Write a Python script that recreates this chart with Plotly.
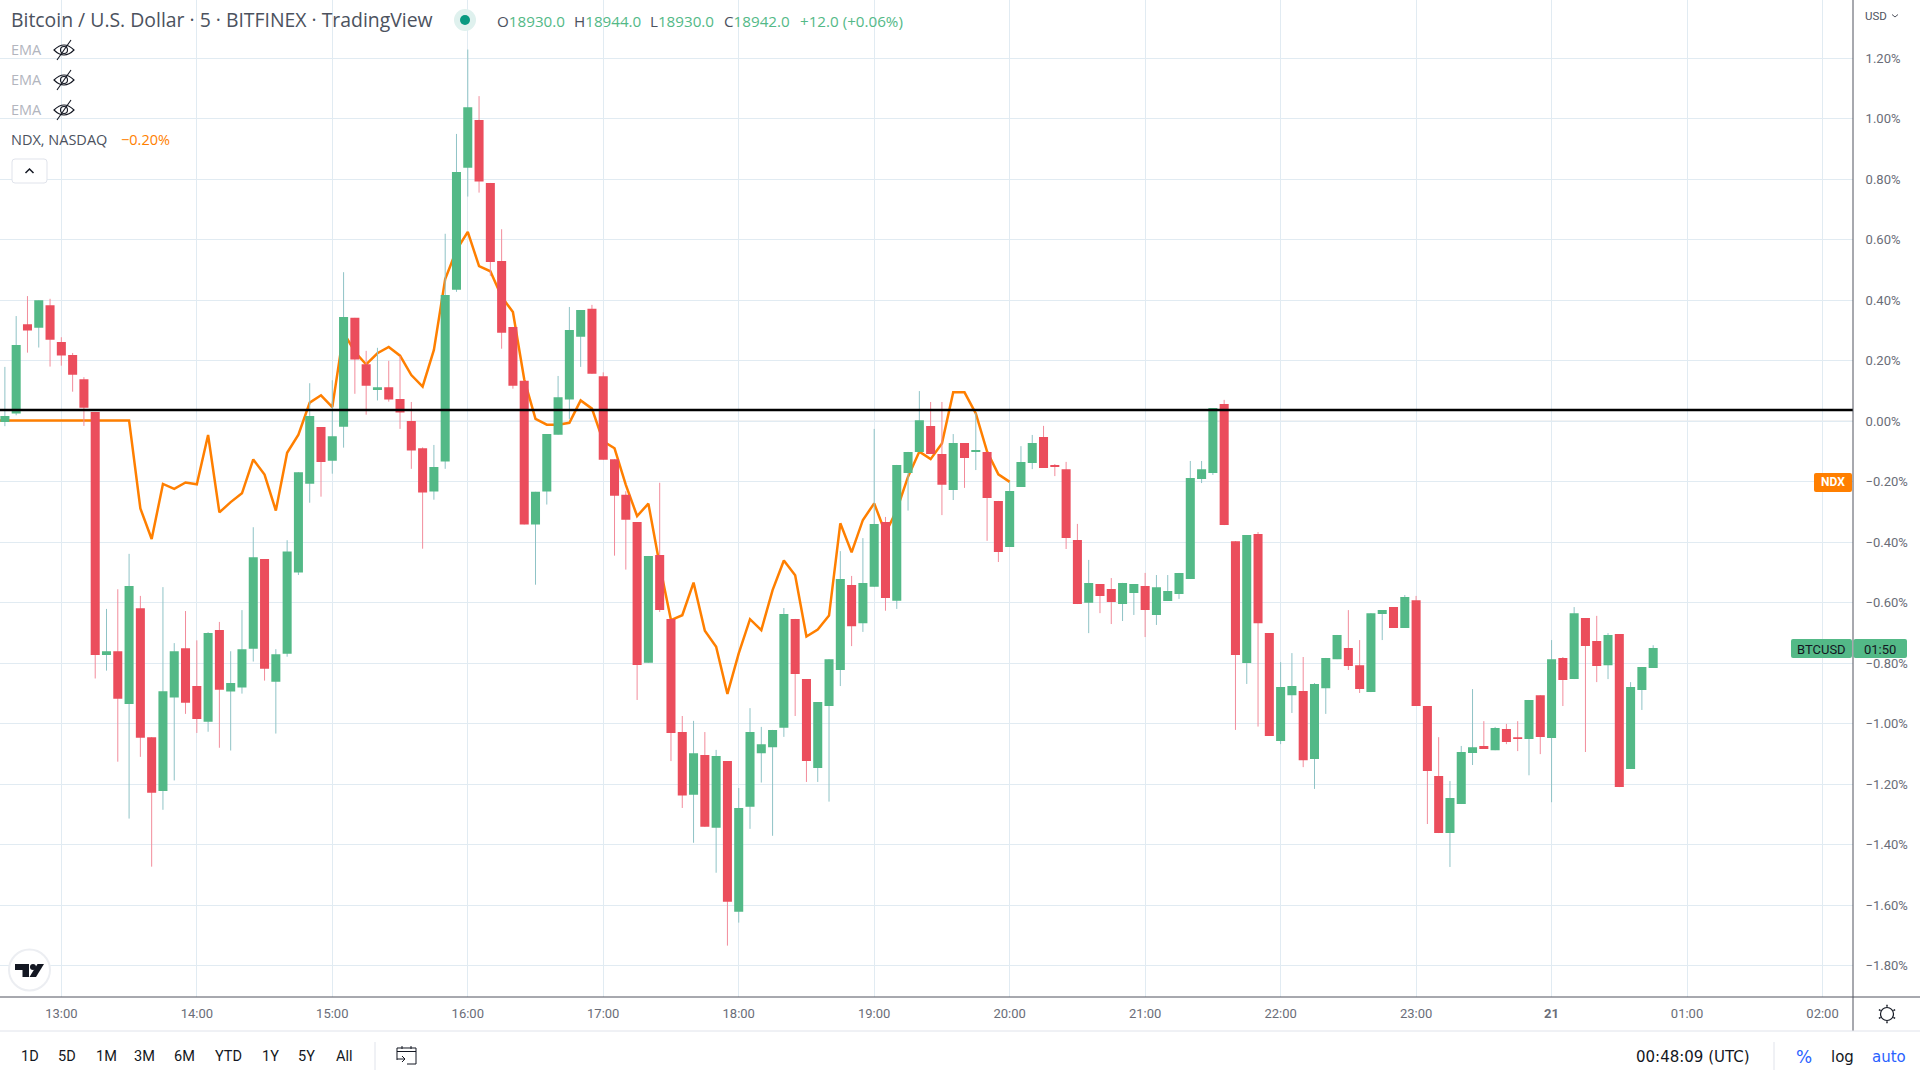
import pandas as pd
import plotly.graph_objects as go

# ---------- data (percent change scale, as on the price axis) ----------
START = "2020-11-20 12:35"
STEP_MIN = 5
OPEN = [-.002,.026,.321,.309,.384,.262,.219,.139,.031,-.772,
-.76,-.934,-.618,-1.044,-1.222,-.913,-.75,-.875,-.993,-.69,
-.893,-.88,-.752,-.455,-.861,-.768,-.50,-.206,-.019,-.13,
-.018,.342,.189,.104,.113,.074,.001,-.089,-.232,-.133,
.435,.838,.996,.788,.53,.312,.134,-.341,-.232,-.044,
.072,.28,.372,.149,-.125,-.243,-.333,-.798,-.442,-.653,
-1.027,-1.234,-1.103,-1.343,-1.123,-1.621,-1.274,-1.097,-1.077,-1.013,
-.653,-.852,-1.146,-.941,-.822,-.541,-.667,-.547,-.333,-.593,
-.171,-.101,-.015,-.108,-.227,-.072,-.101,-.101,-.263,-.415,
-.217,-.138,-.052,-.144,-.158,-.392,-.60,-.538,-.554,-.604,
-.567,-.544,-.64,-.594,-.571,-.521,-.191,-.171,.057,-.396,
-.799,-.372,-.70,-1.057,-.905,-.891,-1.116,-.882,-.786,-.749,
-.806,-.895,-.637,-.614,-.683,-.591,-.941,-1.172,-1.361,-1.265,
-1.096,-1.073,-1.087,-1.017,-1.044,-1.05,-.905,-1.047,-.782,-.852,
-.65,-.726,-.806,-.703,-1.149,-.888,-.815]
HIGH = [.18,.348,.414,.40,.405,.278,.226,.146,.031,-.62,
-.555,-.438,-.577,-1.044,-.548,-.733,-.627,-.724,-.697,-.663,
-.76,-.624,-.35,-.455,-.753,-.393,-.168,.126,-.019,.136,
.493,.342,.233,.243,.20,.216,.064,-.086,-.078,.62,
.95,1.229,1.075,.788,.635,.312,.134,-.233,-.042,.15,
.378,.368,.385,.162,-.125,-.231,-.333,-.445,-.203,-.653,
-.974,-.99,-1.027,-1.086,-1.123,-1.212,-.948,-1.01,-1.02,-.617,
-.653,-.852,-.928,-.786,-.429,-.511,-.386,-.025,-.316,-.144,
-.101,.10,.064,.064,-.042,-.072,.028,-.101,-.263,-.20,
-.082,-.045,-.015,-.141,-.134,-.339,-.458,-.538,-.518,-.534,
-.538,-.501,-.508,-.508,-.501,-.131,-.131,.044,.071,-.396,
-.376,-.366,-.70,-.796,-.766,-.779,-.865,-.782,-.706,-.624,
-.723,-.634,-.624,-.614,-.574,-.577,-.941,-1.044,-1.189,-1.073,
-.885,-.991,-1.01,-1.0,-.991,-.921,-.905,-.723,-.779,-.614,
-.65,-.643,-.70,-.703,-.862,-.812,-.74]
LOW = [-.016,.02,.227,.244,.181,.184,.098,-.015,-.85,-.824,
-1.125,-1.313,-1.109,-1.472,-1.284,-1.187,-.967,-1.03,-1.026,-1.079,
-1.088,-.90,-.794,-.857,-1.032,-.778,-.508,-.269,-.249,-.173,
-.087,.091,.022,.069,.065,-.025,-.157,-.421,-.259,-.157,
.428,.743,.756,.481,.24,.108,-.341,-.54,-.275,-.044,
.008,.18,.157,-.127,-.444,-.49,-.921,-.798,-.63,-1.123,
-1.278,-1.393,-1.34,-1.492,-1.733,-1.657,-1.347,-1.194,-1.37,-1.043,
-.974,-1.192,-1.192,-1.257,-.875,-.743,-.696,-.547,-.626,-.62,
-.295,-.101,-.108,-.31,-.26,-.22,-.161,-.395,-.465,-.415,
-.217,-.158,-.154,-.181,-.422,-.604,-.70,-.634,-.67,-.66,
-.64,-.713,-.673,-.594,-.587,-.521,-.204,-.177,-.343,-1.02,
-.868,-1.009,-1.04,-1.067,-.964,-1.143,-1.215,-.967,-.786,-.822,
-.898,-.895,-.723,-.683,-.683,-.941,-1.331,-1.361,-1.473,-1.265,
-1.136,-1.083,-1.087,-1.067,-1.09,-1.17,-1.10,-1.259,-.941,-.852,
-1.093,-.862,-.852,-1.209,-1.149,-.954,-.815]
CLOSE = [.018,.252,.30,.40,.27,.218,.154,.045,-.772,-.76,
-.917,-.544,-1.046,-1.228,-.892,-.76,-.93,-.984,-.70,-.887,
-.865,-.753,-.449,-.818,-.77,-.43,-.168,.018,-.134,-.049,
.345,.204,.118,.113,.072,.029,-.096,-.235,-.151,.418,
.824,1.038,.793,.527,.293,.118,-.341,-.233,-.042,.08,
.302,.368,.157,-.127,-.246,-.325,-.805,-.445,-.624,-1.03,
-1.237,-1.097,-1.34,-1.106,-1.588,-1.278,-1.027,-1.067,-1.02,-.637,
-.835,-1.123,-.928,-.786,-.521,-.677,-.534,-.339,-.584,-.144,
-.101,.004,-.108,-.21,-.072,-.121,-.095,-.253,-.432,-.23,
-.134,-.072,-.154,-.151,-.386,-.604,-.534,-.577,-.597,-.534,
-.538,-.624,-.548,-.561,-.501,-.187,-.158,.044,-.343,-.772,
-.376,-.667,-1.04,-.878,-.875,-1.12,-.868,-.782,-.706,-.809,
-.885,-.634,-.624,-.683,-.581,-.941,-1.156,-1.361,-1.245,-1.093,
-1.077,-1.083,-1.014,-1.06,-1.05,-.921,-1.043,-.786,-.855,-.634,
-.743,-.809,-.706,-1.209,-.878,-.812,-.749]
# NDX comparison line, starts one bar before the first candle
NDX = [.003]*13 + [-.288,-.389,-.207,-.223,-.202,-.208,-.045,-.301,-.267,-.238,
-.126,-.176,-.295,-.104,-.044,.062,.086,.047,.293,.23,
.188,.225,.246,.217,.153,.115,.236,.47,.566,.626,
.513,.496,.412,.361,.139,.008,-.011,-.011,-.005,.069,
.042,-.066,-.089,-.21,-.313,-.272,-.475,-.657,-.641,-.533,
-.692,-.745,-.901,-.767,-.654,-.69,-.558,-.46,-.509,-.711,
-.688,-.642,-.337,-.433,-.326,-.271,-.37,-.293,-.183,-.10,
-.125,-.073,.096,.096,.026,-.10,-.175,-.20]
REF_LEVEL = .0375
Y_TICKS = [1.2,1.0,.8,.6,.4,.2,0,-.2,-.4,-.6,-.8,-1.0,-1.2,-1.4,-1.6,-1.8]
Y_LABELS = ["1.20%","1.00%","0.80%","0.60%","0.40%","0.20%","0.00%","−0.20%","−0.40%","−0.60%","−0.80%","−1.00%","−1.20%","−1.40%","−1.60%","−1.80%"]
X_TICKS = ["2020-11-20 %02d:00" % h for h in range(13,24)] + ["2020-11-21 00:00","2020-11-21 01:00","2020-11-21 02:00"]
X_LABELS = ["13:00","14:00","15:00","16:00","17:00","18:00","19:00","20:00","21:00","22:00","23:00","<b>21</b>","01:00","02:00"]
Y_RANGE = [-1.9028, 1.3927]
X_RANGE = ["2020-11-20 12:32:50", "2020-11-21 02:13:30"]

UP, DOWN = "#53b987", "#eb4d5c"
UP_WICK, DOWN_WICK = "#8fc3c6", "#f28c9b"
ORANGE = "#ff7f00"
GRID = "#e1ebf2"
AXIS = "#50535e"
FONT = "Roboto"
LABEL_FONT = "Open Sans"
UI_FONT = "DejaVu Sans"

times = pd.date_range(START, periods=len(OPEN), freq=f"{STEP_MIN}min")
ndx_times = pd.date_range(pd.Timestamp(START) - pd.Timedelta(minutes=STEP_MIN), periods=len(NDX), freq=f"{STEP_MIN}min")

def wicks(up):
    xs, ys = [], []
    for t, o, h, l, c in zip(times, OPEN, HIGH, LOW, CLOSE):
        if (c > o) == up:
            xs += [t, t, None]
            ys += [l, h, None]
    return xs, ys

fig = go.Figure()
fig.add_trace(go.Scatter(x=ndx_times, y=NDX, mode="lines", line=dict(color=ORANGE, width=2.5), hoverinfo="skip", showlegend=False))
for up, col in ((True, UP_WICK), (False, DOWN_WICK)):
    xs, ys = wicks(up)
    fig.add_trace(go.Scatter(x=xs, y=ys, mode="lines", line=dict(color=col, width=1), hoverinfo="skip", showlegend=False))
fig.add_trace(go.Candlestick(
    x=times, open=OPEN, close=CLOSE,
    high=[max(o, c) for o, c in zip(OPEN, CLOSE)],
    low=[min(o, c) for o, c in zip(OPEN, CLOSE)],
    increasing=dict(fillcolor=UP, line=dict(color=UP, width=0)),
    decreasing=dict(fillcolor=DOWN, line=dict(color=DOWN, width=0)),
    xaxis="x2", yaxis="y2", showlegend=False, hoverinfo="skip",
))

# ---------- pixel helpers for the chart furniture ----------
PR, PB = 1853.0, 997.0
def fx(x): return x / PR
def fy(y): return (PB - y) / PB
shapes, annos = [], []

def text(x, y, s, size=13, color="#50535e", anchor="left", family=FONT):
    annos.append(dict(xref="paper", yref="paper", x=fx(x), y=fy(y), text=s, showarrow=False,
                      xanchor=anchor, yanchor="middle", align=anchor, xshift=0, yshift=0,
                      borderpad=0, font=dict(family=family, size=size, color=color)))

def line(x0, y0, x1, y1, color, width=1):
    shapes.append(dict(type="line", xref="paper", yref="paper", x0=fx(x0), y0=fy(y0), x1=fx(x1), y1=fy(y1),
                       line=dict(color=color, width=width), layer="above"))

def path(points, color=None, width=1, fill=None):
    """points: list of SVG tokens; tuples are pixel coordinates."""
    out = []
    for p in points:
        out.append(f"{fx(p[0]):.6f},{fy(p[1]):.6f}" if isinstance(p, tuple) else p)
    shapes.append(dict(type="path", xref="paper", yref="paper", path=" ".join(out), layer="above",
                       fillcolor=fill or "rgba(0,0,0,0)",
                       line=dict(color=color or "rgba(0,0,0,0)", width=width)))

def circle(cx, cy, r, color=None, width=1, fill=None):
    shapes.append(dict(type="circle", xref="paper", yref="paper", x0=fx(cx-r), x1=fx(cx+r), y0=fy(cy+r), y1=fy(cy-r),
                       fillcolor=fill or "rgba(0,0,0,0)", line=dict(color=color or "rgba(0,0,0,0)", width=width), layer="above"))

def rrect(x0, y0, x1, y1, r, fill=None, color=None, width=0):
    path(["M", (x0+r, y0), "L", (x1-r, y0), "Q", (x1, y0), (x1, y0+r), "L", (x1, y1-r), "Q", (x1, y1), (x1-r, y1),
          "L", (x0+r, y1), "Q", (x0, y1), (x0, y1-r), "L", (x0, y0+r), "Q", (x0, y0), (x0+r, y0), "Z"],
         color=color, width=width, fill=fill)

# reference and zero lines
shapes.append(dict(type="line", xref="paper", yref="y", x0=0, x1=1, y0=0, y1=0, line=dict(color="#b2b5be", width=1), layer="below"))
shapes.append(dict(type="line", xref="paper", yref="y", x0=0, x1=1, y0=REF_LEVEL, y1=REF_LEVEL, line=dict(color="#000000", width=2.4), layer="above"))

# frame
line(0, 997, 1920, 997, AXIS, 1)
line(1853, 0, 1853, 1031, AXIS, 1)
line(0, 1031, 1920, 1031, "#e0e3eb", 1)
line(375, 1042, 375, 1070, "#e0e3eb", 1)
line(1774, 1042, 1774, 1070, "#e0e3eb", 1)

# header
text(9.5, 20, "Bitcoin / U.S. Dollar · 5 · BITFINEX · TradingView", size=19.4, color="#4c525e", family=LABEL_FONT)
circle(465, 20, 11, fill="#dff1ee")
circle(465, 20, 5, fill="#089981")
G = UP
for x, lab, val in ((496, "O", "18930.0"), (573, "H", "18944.0"), (649, "L", "18930.0"), (723, "C", "18942.0")):
    text(x, 20.5, f'{lab}<span style="color:{G}">{val}</span>', size=15.2, color="#4c525e", family=LABEL_FONT)
text(799, 20.5, "+12.0 (+0.06%)", size=15.2, color=G, family=LABEL_FONT)

# legend rows
for y in (50, 80, 110):
    text(10, y, "EMA", size=14.5, color="#b2b5be", family=LABEL_FONT)
    path(["M", (54, y), "Q", (64, y-10), (74, y), "Q", (64, y+10), (54, y), "Z"], color="#131722", width=1.1)
    circle(64, y, 3.5, color="#131722", width=1.1)
    line(57, y+10, 71, y-10, "#131722", 1.1)
text(10, 140, "NDX, NASDAQ", size=14.5, color="#4c525e", family=LABEL_FONT)
text(119.5, 140, "−0.20%", size=14.5, color=ORANGE, family=LABEL_FONT)
rrect(12, 159, 47, 183, 3, fill="#ffffff", color="#e0e3eb", width=1)
path(["M", (25.5, 173), "L", (29.5, 169), "L", (33.5, 173)], color="#131722", width=1.5)

# price-axis tags
rrect(1814, 473, 1852, 492, 2, fill=ORANGE)
text(1833, 482.5, "<b>NDX</b>", size=12, color="#ffffff", anchor="center")
rrect(1791, 639, 1852, 658, 2, fill=UP)
rrect(1853.5, 639, 1907, 658, 2, fill=UP)
text(1821.5, 649, "BTCUSD", size=13, color="#131722", anchor="center")
text(1880, 649, "01:50", size=13, color="#131722", anchor="center")

# currency selector
text(1864, 16, "USD", size=11.5, color="#50535e")
path(["M", (1892, 14.5), "L", (1895, 17), "L", (1898, 14.5)], color="#50535e", width=1)

# logo
circle(29.5, 970, 20.5, color="#eceef2", width=2, fill="#ffffff")
path(["M", (15, 964), "L", (29, 964), "L", (29, 977), "L", (22.5, 977), "L", (22.5, 970), "L", (15, 970), "Z"], fill="#131722")
circle(33, 967, 3, fill="#131722")
path(["M", (37.5, 964), "L", (44, 964), "L", (36, 977), "L", (29.5, 977), "Z"], fill="#131722")

# range bar
for cx, lab in zip((29.5, 67, 106.5, 144.5, 184, 228, 270.5, 306, 344), ("1D","5D","1M","3M","6M","YTD","1Y","5Y","All")):
    text(cx, 1056, lab, size=14.5, color="#131722", anchor="center")
# calendar icon
path(["M", (397, 1060), "L", (397, 1048), "L", (416, 1048), "L", (416, 1064), "L", (407, 1064)], color="#131722", width=1)
line(397, 1051.5, 416, 1051.5, "#131722", 1)
line(402, 1046, 402, 1049, "#131722", 1)
line(411, 1046, 411, 1049, "#131722", 1)
path(["M", (397, 1059), "L", (405, 1059), "M", (402, 1056), "L", (405, 1059), "L", (402, 1062)], color="#131722", width=1)

text(1635, 1056.5, "00:48:09 (UTC)", size=15, color="#131722", family=UI_FONT)
text(1804, 1056.5, "%", size=17, color="#2962ff", anchor="center", family=UI_FONT)
text(1842, 1056.5, "log", size=15, color="#131722", anchor="center", family=UI_FONT)
text(1889, 1056.5, "auto", size=15, color="#2962ff", anchor="center", family=UI_FONT)

# gear
circle(1887, 1014, 6.5, color="#131722", width=1.2)
for dx, dy in ((0,-8.5),(0,8.5),(7.5,-4),(7.5,4),(-7.5,-4),(-7.5,4)):
    line(1887+dx*0.85, 1014+dy*0.85, 1887+dx*1.08, 1014+dy*1.08, "#131722", 1.4)

fig.update_layout(
    width=1920, height=1080, autosize=False,
    margin=dict(l=0, r=67, t=0, b=83, pad=0),
    paper_bgcolor="#ffffff", plot_bgcolor="#ffffff",
    boxgap=0.2, boxgroupgap=0, showlegend=False, hovermode=False, dragmode=False,
    shapes=shapes, annotations=annos,
    xaxis=dict(type="date", range=X_RANGE, tickmode="array", tickvals=X_TICKS, ticktext=X_LABELS, tickangle=0,
               showgrid=True, gridcolor=GRID, gridwidth=1, zeroline=False, showline=False,
               ticks="outside", ticklen=4, tickcolor="rgba(0,0,0,0)",
               tickfont=dict(family=FONT, size=13, color="#6a6d78"), rangeslider=dict(visible=False)),
    yaxis=dict(range=Y_RANGE, side="right", tickmode="array", tickvals=Y_TICKS, ticktext=Y_LABELS,
               showgrid=True, gridcolor=GRID, gridwidth=1, zeroline=False, showline=False,
               ticks="outside", ticklen=9, tickcolor="rgba(0,0,0,0)",
               tickfont=dict(family=FONT, size=13, color="#6a6d78")),
    xaxis2=dict(type="date", range=X_RANGE, overlaying="x", visible=False, rangeslider=dict(visible=False)),
    yaxis2=dict(range=Y_RANGE, overlaying="y", visible=False),
)

fig.write_html("out.html", config=dict(displayModeBar=False, staticPlot=True),
               post_script="document.body.style.margin='0';document.body.style.overflow='hidden';")
